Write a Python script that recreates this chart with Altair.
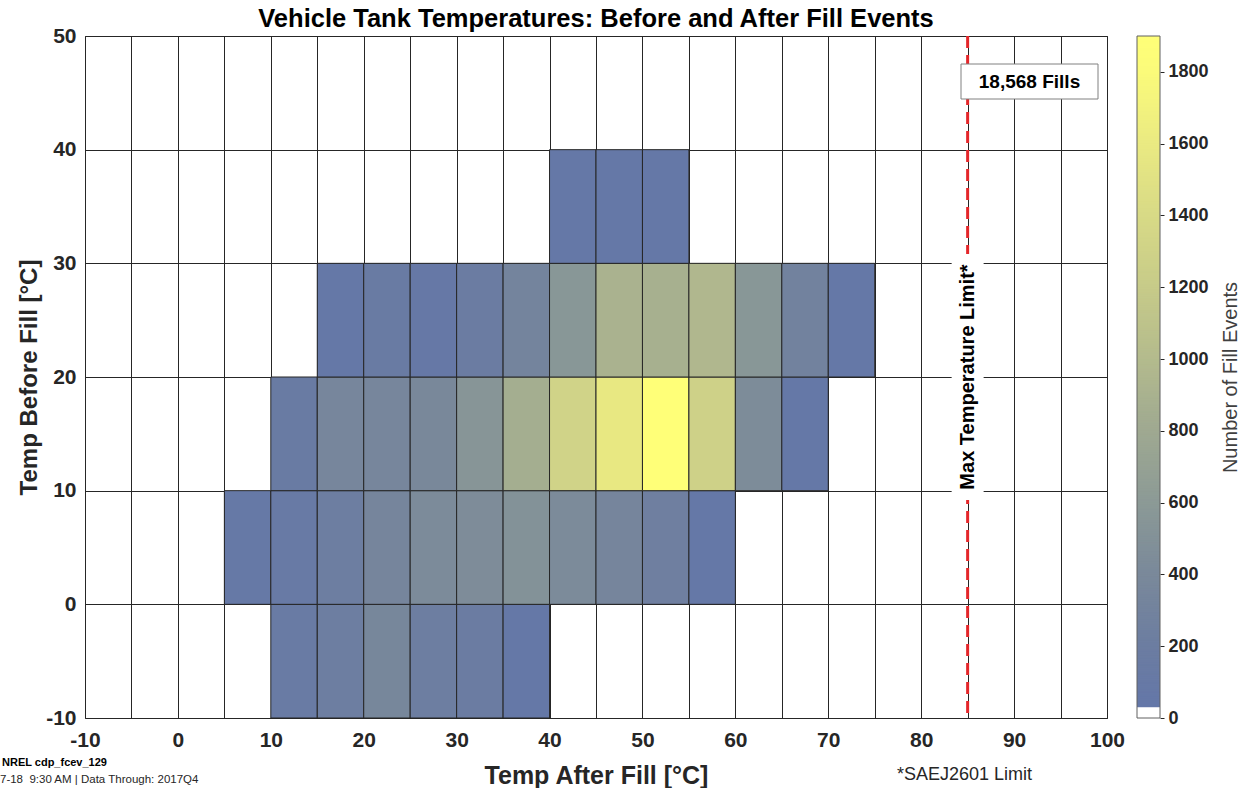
import altair as alt
import numpy as np
import pandas as pd

FONT = "Liberation Sans"

# Bin layout: 5 degC wide on "after fill", 10 degC tall on "before fill"
after_step = 5
before_step = 10
before_bins = [-10, 0, 10, 20, 30]      # lower edge of each "before fill" row
after_start = [10, 5, 10, 15, 40]       # first populated "after fill" bin per row
fill_counts = [
    [130, 210, 360, 210, 170, 45],
    [80, 110, 210, 340, 420, 440, 500, 420, 340, 240, 60],
    [140, 350, 350, 390, 540, 850, 1300, 1580, 1890, 1280, 430, 60],
    [60, 140, 70, 180, 320, 560, 900, 880, 960, 560, 280, 50],
    [50, 60, 53],
]

x_ticks = list(range(-10, 101, 5))
y_ticks = list(range(-10, 51, 10))
cbar_ticks = list(range(0, 1801, 200))
limit_temp = 85
limit_label_y = 20
color_max = 1900

color_domain = [0, 29.9, 30, 200, 400, 600, 800, 1000, 1200, 1400, 1600, 1800, 1900]
color_range = ["#ffffff", "#ffffff", "#6477a8", "#6c7da1", "#7a899a", "#8c9a96",
               "#9fa991", "#b4bb8d", "#c7cb89", "#d8da86", "#eaea82", "#fbfb7a", "#ffff78"]

rows = []
for lo_y, start, counts in zip(before_bins, after_start, fill_counts):
    for i, c in enumerate(counts):
        lo_x = start + i * after_step
        rows.append({"x": lo_x, "x2": lo_x + after_step,
                     "y": lo_y, "y2": lo_y + before_step, "count": c})
cells = pd.DataFrame(rows)
total_fills = int(cells["count"].sum())

cbar_lo = np.arange(0, color_max, 5)
cbar = pd.DataFrame({"lo": cbar_lo,
                     "hi": np.minimum(cbar_lo + 8, color_max),
                     "count": cbar_lo})

W, H = 1022, 682

color_scale = alt.Scale(type="linear", domain=color_domain, range=color_range,
                        interpolate="rgb")

x_enc = alt.X("x:Q",
              scale=alt.Scale(domain=[-10, 100], nice=False, zero=False),
              axis=alt.Axis(values=x_ticks, grid=True, ticks=False, domain=False,
                            labelExpr="datum.value % 10 === 0 ? toString(datum.value) : ''",
                            labelFontSize=21, labelFontWeight="bold", labelColor="#262626",
                            labelFont=FONT, labelPadding=11, labelFlush=False,
                            title="Temp After Fill [°C]", titleFontSize=25,
                            titleFontWeight="bold", titleFont=FONT, titleColor="#262626",
                            titlePadding=13))
y_enc = alt.Y("y:Q",
              scale=alt.Scale(domain=[-10, 50], nice=False, zero=False),
              axis=alt.Axis(values=y_ticks, grid=True, ticks=False, domain=False,
                            labelExpr="toString(datum.value)",
                            labelFontSize=21, labelFontWeight="bold", labelColor="#262626",
                            labelFont=FONT, labelPadding=9, labelFlush=False,
                            title="Temp Before Fill [°C]", titleFontSize=24,
                            titleFontWeight="bold", titleFont=FONT, titleColor="#262626",
                            titlePadding=4))

heat = alt.Chart(cells).mark_rect(stroke="#262626", strokeWidth=1).encode(
    x=x_enc, x2="x2:Q", y=y_enc, y2="y2:Q",
    color=alt.Color("count:Q", scale=color_scale, legend=None),
)

limit_df = pd.DataFrame({"x": [limit_temp], "y": [limit_label_y],
                         "label": ["Max Temperature Limit*"]})
limit_rule = alt.Chart(limit_df).mark_rule(
    color="#e4262a", strokeWidth=3, strokeDash=[12, 7]
).encode(x=x_enc)

# white backing behind the rotated limit label
limit_box = alt.Chart(limit_df).mark_point(
    shape="M-0.13,-1H0.13V1H-0.13Z", size=60516, filled=True,
    fill="white", opacity=1, strokeWidth=0
).encode(x=x_enc, y=y_enc)

limit_text = alt.Chart(limit_df).mark_text(
    angle=270, fontSize=20, fontWeight="bold", font=FONT, color="black",
    align="center", baseline="middle"
).encode(x=x_enc, y=y_enc, text="label:N")

count_df = pd.DataFrame({"label": [f"{total_fills:,} Fills"]})
count_box = alt.Chart(count_df).mark_rect(
    fill="white", stroke="#808080", strokeWidth=1
).encode(x=alt.value(876), x2=alt.value(1013), y=alt.value(28), y2=alt.value(63))
count_text = alt.Chart(count_df).mark_text(
    fontSize=19, fontWeight="bold", font=FONT, color="black",
    align="center", baseline="middle"
).encode(x=alt.value(944.5), y=alt.value(45.5), text="label:N")

notes_df = pd.DataFrame({
    "text": ["NREL cdp_fcev_129", "7-18\u00a0 9:30 AM | Data Through: 2017Q4", "*SAEJ2601 Limit"],
})
note1 = alt.Chart(notes_df.iloc[[0]]).mark_text(
    align="left", baseline="middle", fontSize=11, fontWeight="bold", font=FONT, color="black"
).encode(x=alt.value(-83), y=alt.value(727), text="text:N")
note2 = alt.Chart(notes_df.iloc[[1]]).mark_text(
    align="left", baseline="middle", fontSize=11.5, font=FONT, color="#262626"
).encode(x=alt.value(-85), y=alt.value(744), text="text:N")
note3 = alt.Chart(notes_df.iloc[[2]]).mark_text(
    align="left", baseline="middle", fontSize=18, font=FONT, color="#262626"
).encode(x=alt.value(812), y=alt.value(739), text="text:N")

main = alt.layer(heat, limit_rule, limit_box, limit_text, count_box, count_text,
                 note1, note2, note3)

colorbar = alt.Chart(cbar).mark_rect().encode(
    x=alt.value(1052), x2=alt.value(1075),
    y=alt.Y("lo:Q", scale=alt.Scale(domain=[0, color_max], nice=False, zero=False),
            axis=alt.Axis(orient="right", offset=53, values=cbar_ticks, grid=False,
                          domain=False, ticks=True, tickSize=4, tickColor="#262626",
                          format="d",
                          labelFontSize=18, labelFontWeight="bold", labelColor="#262626",
                          labelFont=FONT, labelPadding=4, labelFlush=False,
                          title="Number of Fill Events", titleFontSize=20,
                          titleFontWeight="normal", titleFont=FONT, titleColor="#404040",
                          titleAngle=270, titleBaseline="top", titlePadding=12)),
    y2="hi:Q",
    color=alt.Color("count:Q", scale=color_scale, legend=None),
)
cbar_frame = alt.Chart(cbar.iloc[[0]]).mark_rect(
    filled=False, stroke="#606060", strokeWidth=1
).encode(x=alt.value(1052), x2=alt.value(1075), y=alt.value(0), y2=alt.value(H))

chart = alt.layer(main, colorbar, cbar_frame).resolve_scale(y="independent").properties(
    width=W, height=H,
    padding={"left": 0, "top": 6, "right": 0, "bottom": 0},
    title=alt.TitleParams(
        text="Vehicle Tank Temperatures: Before and After Fill Events",
        fontSize=25.5, fontWeight="bold", font=FONT, color="black",
        anchor="middle", frame="group", offset=-7),
).configure_view(stroke="#262626", strokeWidth=1).configure_axis(
    gridColor="#262626", gridOpacity=1, gridWidth=1
)

chart.save("out.html", embed_options={"renderer": "svg", "actions": False})
